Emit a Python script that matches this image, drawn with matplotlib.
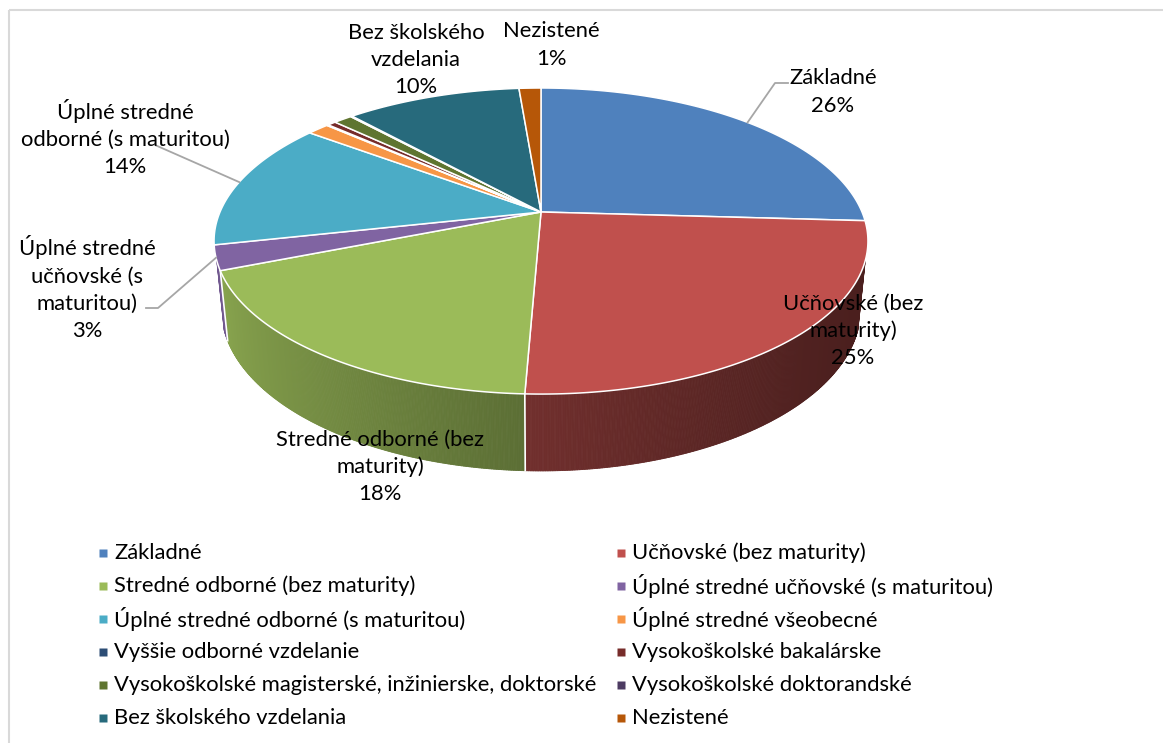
import numpy as np
import matplotlib.pyplot as plt
from matplotlib.collections import PolyCollection
from matplotlib.patches import Polygon, Rectangle

plt.rcParams['font.family'] = ['Lato', 'DejaVu Sans']

# data (share of population by education, %)
categories = [
    'Základné',
    'Učňovské (bez maturity)',
    'Stredné odborné (bez maturity)',
    'Úplné stredné učňovské (s maturitou)',
    'Úplné stredné odborné (s maturitou)',
    'Úplné stredné všeobecné',
    'Vyššie odborné vzdelanie',
    'Vysokoškolské bakalárske',
    'Vysokoškolské magisterské, inžinierske, doktorské',
    'Vysokoškolské doktorandské',
    'Bez školského vzdelania',
    'Nezistené',
]
values = [25.9, 24.7, 18.3, 2.6, 13.6, 1.3, 0.1, 0.5, 1.1, 0.1, 10.4, 1.3]
colors = ['#4F81BD', '#C0504D', '#9BBB59', '#8064A2', '#4BACC6', '#F79646',
          '#2C4D75', '#772C2A', '#5F7530', '#4D3B62', '#276A7C', '#B65708']

# wrapped data label texts (only these slices carry a label)
label_text = {
    0: 'Základné',
    1: 'Učňovské (bez\nmaturity)',
    2: 'Stredné odborné (bez\nmaturity)',
    3: 'Úplné stredné\nučňovské (s\nmaturitou)',
    4: 'Úplné stredné\nodborné (s maturitou)',
    10: 'Bez školského\nvzdelania',
    11: 'Nezistené',
}

# layout (pixels)
W, H_PX = 1163, 743
FS = 15.8
label_pos = {0: (833, 92), 1: (853, 331), 2: (380, 467), 3: (87, 288),
             4: (125, 138), 10: (416, 60), 11: (551, 45)}
# leader line start points (near the label)
leader_start = {0: [(788, 83), (775, 83)], 3: [(146, 308), (158, 308)],
                4: [(155, 145)]}

# 3d pie projection
CX, CY = 541, 212
KX, KY = 321, 237.5
DIST = 4.13
PHI = np.deg2rad(38.4)
THICK = 0.365
QZ = 0.4


def project(theta, z):
    X = np.sin(theta)
    Y = np.cos(theta)
    c, s = np.cos(PHI), np.sin(PHI)
    d = DIST + Y * c - z * s * QZ
    yc = Y * s + z * c
    return CX + KX * DIST * X / d, CY - KY * DIST * yc / d


def shade(color, theta):
    f = 0.66 - 0.26 * np.sin(theta) + 0.08 * np.cos(theta)
    rgb = np.array(plt.matplotlib.colors.to_rgb(color))
    return tuple(np.clip(rgb * f, 0, 1))


fig = plt.figure(figsize=(W / 100, H_PX / 100), dpi=100)
ax = fig.add_axes([0, 0, 1, 1])
ax.set_xlim(0, W)
ax.set_ylim(H_PX, 0)
ax.axis('off')

fracs = np.array(values) / np.sum(values)
bounds = np.concatenate([[0], np.cumsum(fracs)]) * 2 * np.pi

# visible range of the outer wall
tv = np.arccos(-1 / (DIST * np.cos(PHI)))
vis_lo, vis_hi = tv, 2 * np.pi - tv

# walls
quads, qcols = [], []
for i, col in enumerate(colors):
    t0, t1 = max(bounds[i], vis_lo), min(bounds[i + 1], vis_hi)
    if t1 <= t0:
        continue
    ts = np.linspace(t0, t1, max(2, int(np.degrees(t1 - t0) * 4)))
    for a, b in zip(ts[:-1], ts[1:]):
        xa, ya = project(a, 0)
        xb, yb = project(b, 0)
        xc, yc_ = project(b, -THICK)
        xd, yd = project(a, -THICK)
        quads.append([(xa, ya), (xb, yb), (xc, yc_), (xd, yd)])
        qcols.append(shade(col, (a + b) / 2))
ax.add_collection(PolyCollection(quads, facecolors=qcols, edgecolors=qcols,
                                 linewidths=0.6, zorder=1))

# white separators on the wall
for t in bounds[1:-1]:
    if vis_lo < t < vis_hi:
        x0, y0 = project(t, 0)
        x1, y1 = project(t, -THICK)
        ax.plot([x0, x1], [y0, y1], color='white', lw=1.2, zorder=2)

# top face
for i, col in enumerate(colors):
    ts = np.linspace(bounds[i], bounds[i + 1], max(2, int(np.degrees(bounds[i + 1] - bounds[i]) * 2)))
    xs, ys = project(ts, 0)
    pts = [(CX, CY)] + list(zip(xs, ys))
    ax.add_patch(Polygon(pts, closed=True, facecolor=col, edgecolor='white',
                         lw=1.1, joinstyle='round', zorder=3))

# data labels
for i, txt in label_text.items():
    pct = round(fracs[i] * 100)
    x, y = label_pos[i]
    ax.text(x, y, f'{txt}\n{pct:.0f}%', ha='center', va='center',
            multialignment='center', fontsize=FS, linespacing=1.44,
            color='black', zorder=5)
    if i in leader_start:
        mid = (bounds[i] + bounds[i + 1]) / 2
        z = -THICK if vis_lo < mid < vis_hi else 0
        ex, ey = project(mid, z)
        pts = leader_start[i] + [(ex, ey)]
        ax.plot([p[0] for p in pts], [p[1] for p in pts], color='#a6a6a6',
                lw=1.3, zorder=4)

# legend, filled row-wise in two columns
col_marker_x = [103, 621]
col_text_x = [114, 632]
row_y0, row_dy = 553, 33
for i, name in enumerate(categories):
    r, c = divmod(i, 2)
    y = row_y0 + r * row_dy
    ax.plot(col_marker_x[c], y, marker='s', ms=5.2, color=colors[i], mec='none')
    ax.text(col_text_x[c], y, name, ha='left', va='center', fontsize=FS,
            color='black')

# chart frame
ax.add_patch(Rectangle((9, 10), W + 20, H_PX + 20, fill=False,
                       edgecolor='#d9d9d9', lw=1.5, zorder=0))

fig.savefig('out.png', dpi=100)
